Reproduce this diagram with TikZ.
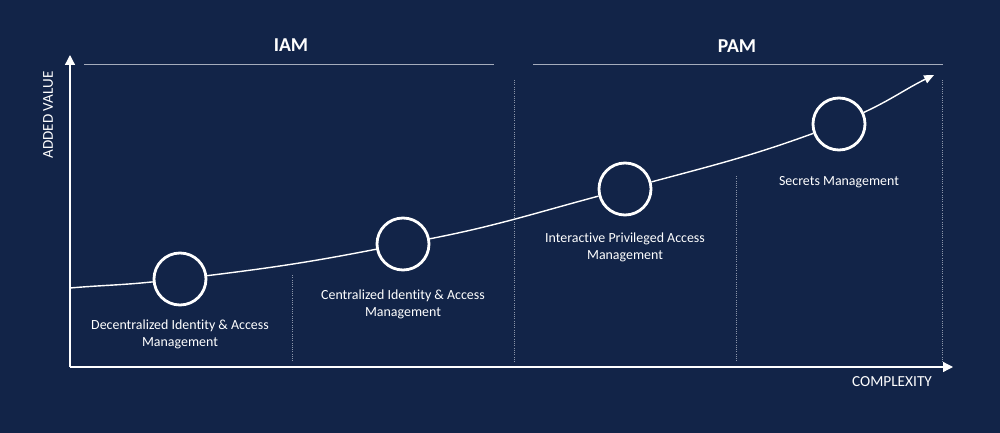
\documentclass[tikz,border=0pt]{standalone}
\usepackage{fontspec}
\setmainfont{Carlito}[Ligatures={NoCommon}]
\usetikzlibrary{arrows.meta}
\definecolor{navy}{RGB}{18,36,72}
\definecolor{rulegray}{RGB}{165,172,188}
\definecolor{dotgray}{RGB}{140,150,170}
\begin{document}
\begin{tikzpicture}[x=0.025cm,y=-0.025cm,
    stage/.style={circle,draw=white,line width=2pt,inner sep=0pt,minimum size=1.3cm},
    caption/.style={text=white,align=center,font=\fontsize{9.9}{12.2}\selectfont},
    divider/.style={dotgray,densely dotted,line width=0.6pt}]
    % Background
    \fill[navy] (0,0) rectangle (1000,433);
    \useasboundingbox (0,0) rectangle (1000,433);

    % Axes
    \draw[white,line width=0.9pt,-{Triangle[length=7pt,width=7pt]}] (70,367) -- (70,55) coordinate (ytip);
    \draw[white,line width=0.9pt,-{Triangle[length=7pt,width=7pt]}] (70,367) -- (953,367) coordinate (xtip);
    \node[text=white,rotate=90,font=\fontsize{10.7}{12}\selectfont] (yl) at (48,115) {ADDED VALUE};
    \node[text=white,font=\fontsize{10.9}{12}\selectfont] (xl) at (892,382) {COMPLEXITY};

    % Group headers
    \draw[rulegray,line width=0.7pt] (84,64) -- (494,64);
    \draw[rulegray,line width=0.7pt] (533,64) -- (943,64);
    \node[text=white,font=\bfseries\fontsize{14}{16}\selectfont] (iam) at (291,45) {IAM};
    \node[text=white,font=\bfseries\fontsize{14}{16}\selectfont] (pam) at (737,46) {PAM};

    % Dividers
    \draw[divider] (292,275) -- (292,362);
    \draw[divider] (514,80) -- (514,362);
    \draw[divider] (736,176) -- (736,362);
    \draw[divider] (942,80) -- (942,362);

    % Stages
    \node[stage] (s1) at (180,279) {};
    \node[stage] (s2) at (403,244) {};
    \node[stage] (s3) at (625,189) {};
    \node[stage] (s4) at (839,124) {};

    % Value curve
    \coordinate (c0) at (70,288);
    \coordinate (c5) at (934,75);
    \draw[white,line width=1pt] (c0) to[out=5,in=186] (s1);
    \draw[white,line width=1pt] (s1) to[out=7,in=191] (s2);
    \draw[white,line width=1pt] (s2) to[out=11,in=195] (s3);
    \draw[white,line width=1pt] (s3) to[out=15,in=200] (s4);
    \draw[white,line width=1pt,-{Triangle[length=7pt,width=6pt]}] (s4) to[out=25,in=206] (c5);

    % Labels
    \node[caption] (l1) at (180,334.5) {Decentralized Identity \& Access\\Management};
    \node[caption] (l2) at (403,304.5) {Centralized Identity \& Access\\Management};
    \node[caption] (l3) at (625,247.5) {Interactive Privileged Access\\Management};
    \node[caption] (l4) at (839,182) {Secrets Management};
\end{tikzpicture}
\end{document}
